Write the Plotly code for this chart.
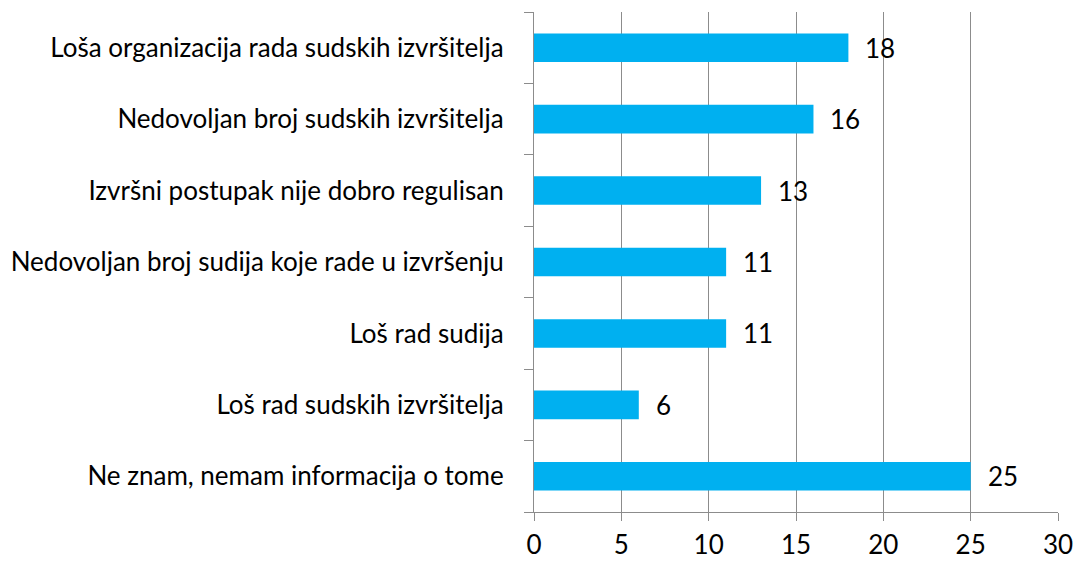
import plotly.graph_objects as go

categories = [
    "Loša organizacija rada sudskih izvršitelja",
    "Nedovoljan broj sudskih izvršitelja",
    "Izvršni postupak nije dobro regulisan",
    "Nedovoljan broj sudija koje rade u izvršenju",
    "Loš rad sudija",
    "Loš rad sudskih izvršitelja",
    "Ne znam, nemam informacija o tome",
]
values = [18, 16, 13, 11, 11, 6, 25]
x_ticks = [0, 5, 10, 15, 20, 25, 30]

FONT = "Lato"
FS = 26
GRID = "#8c8c8c"

fig = go.Figure()
fig.add_trace(go.Bar(
    x=values, y=categories, orientation="h",
    marker=dict(color="#00B0F0", line=dict(width=0)),
    width=0.4, showlegend=False,
))
for c, v in zip(categories, values):
    fig.add_annotation(x=v, y=c, text=str(v), showarrow=False,
                       xanchor="left", yanchor="middle", xshift=15,
                       font=dict(family=FONT, size=FS, color="black"))

fig.update_layout(
    width=1075, height=562,
    margin=dict(l=534, r=17, t=12, b=50, autoexpand=False),
    paper_bgcolor="white", plot_bgcolor="white",
    font=dict(family=FONT, size=FS, color="black"),
)
fig.update_xaxes(
    range=[0, 30], tickvals=x_ticks, ticktext=[str(t) for t in x_ticks],
    showgrid=True, gridcolor=GRID, gridwidth=1.3,
    showline=True, linecolor=GRID, linewidth=1.3,
    ticks="outside", ticklen=8, tickcolor=GRID, tickwidth=1.3,
    zeroline=False, automargin=False, ticklabelstandoff=2,
)
fig.update_yaxes(
    categoryorder="array", categoryarray=categories[::-1],
    tickson="boundaries", ticks="outside", ticklen=9, tickcolor=GRID, tickwidth=1.3,
    showline=True, linecolor=GRID, linewidth=1.3,
    showgrid=False, zeroline=False, ticklabelstandoff=24, automargin=False,
)

fig.write_html("out.html", config={"displayModeBar": False},
               post_script="document.body.style.margin='0';document.body.style.overflow='hidden';")
